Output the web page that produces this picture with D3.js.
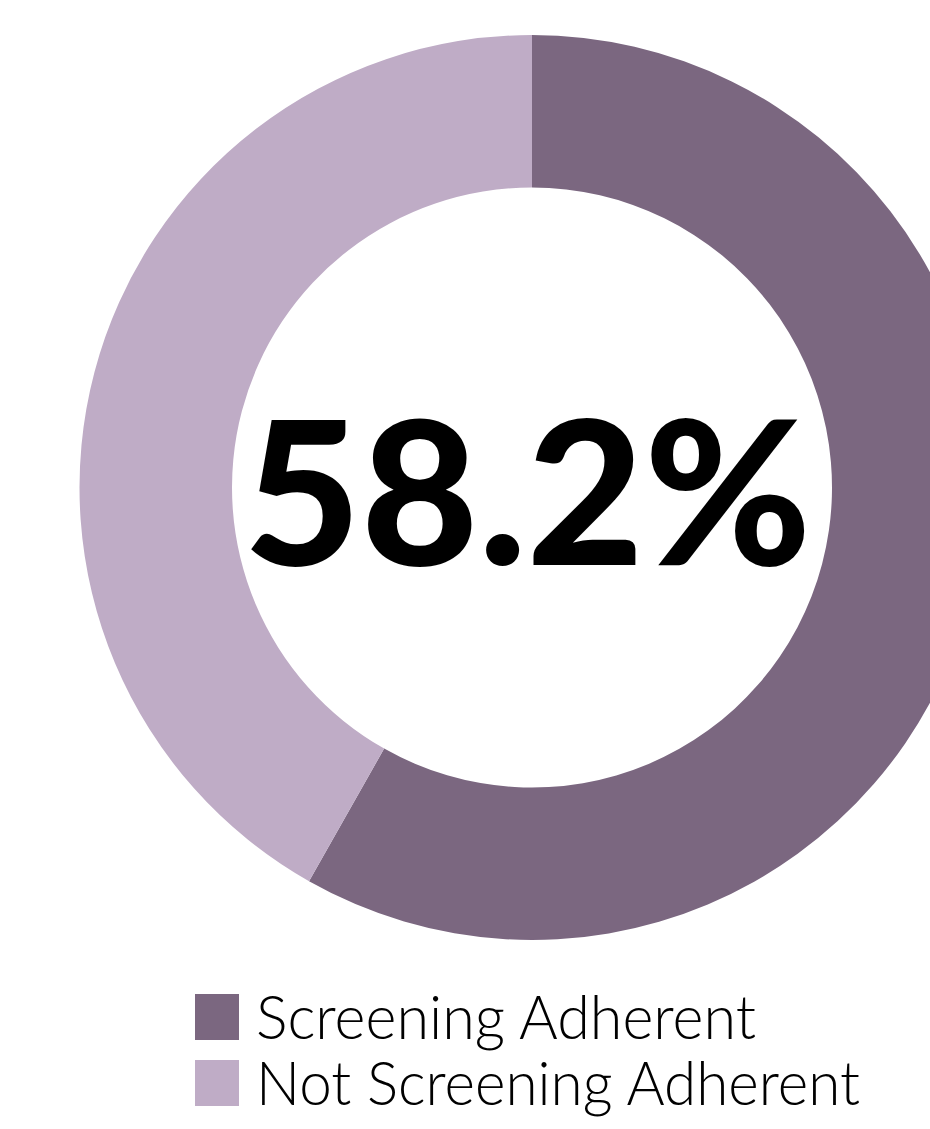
<!DOCTYPE html>
<html>
<head>
<meta charset="utf-8">
<script src="https://cdn.jsdelivr.net/npm/d3@7"></script>
<style>
  html, body { margin: 0; padding: 0; background: #ffffff; overflow: hidden; }
  svg { display: block; }
</style>
</head>
<body>
<svg id="chart" width="930" height="1129"></svg>
<script>
// Screening adherence shares (percent)
const categories = ["Screening Adherent", "Not Screening Adherent"];
const values = [58.2, 41.8];
const colors = ["#7b6780", "#bfacc6"];
const centerLabel = "58.2%";

const svg = d3.select("#chart");
const cx = 532, cy = 487.5;
const outerR = 452.5, innerR = 300;

const color = d3.scaleOrdinal().domain(categories).range(colors);

const pie = d3.pie().sort(null).value(d => d.value);
const arc = d3.arc().innerRadius(innerR).outerRadius(outerR);

const data = categories.map((c, i) => ({ category: c, value: values[i] }));

const g = svg.append("g").attr("transform", `translate(${cx},${cy})`);
g.selectAll("path")
  .data(pie(data))
  .join("path")
  .attr("d", arc)
  .attr("fill", d => color(d.data.category));

// Central value
g.append("text")
  .attr("x", -4.5)
  .attr("y", 77)
  .attr("text-anchor", "middle")
  .attr("font-family", "Lato, 'DejaVu Sans', sans-serif")
  .attr("font-weight", 900)
  .attr("font-size", 200)
  .attr("textLength", 568)
  .attr("lengthAdjust", "spacingAndGlyphs")
  .attr("fill", "#000")
  .text(centerLabel);

// Legend
const legendWidths = [500, 604];
const legend = svg.append("g").attr("transform", "translate(195,994)");
const rows = legend.selectAll("g")
  .data(categories)
  .join("g")
  .attr("transform", (d, i) => `translate(0,${i * 66})`);
rows.append("rect")
  .attr("width", 44)
  .attr("height", 46)
  .attr("fill", d => color(d));
rows.append("text")
  .attr("x", 61)
  .attr("y", 45)
  .attr("font-family", "Lato, 'DejaVu Sans', sans-serif")
  .attr("font-weight", 300)
  .attr("font-size", 61)
  .attr("textLength", (d, i) => legendWidths[i])
  .attr("lengthAdjust", "spacingAndGlyphs")
  .attr("fill", "#000")
  .text(d => d);
</script>
</body>
</html>
